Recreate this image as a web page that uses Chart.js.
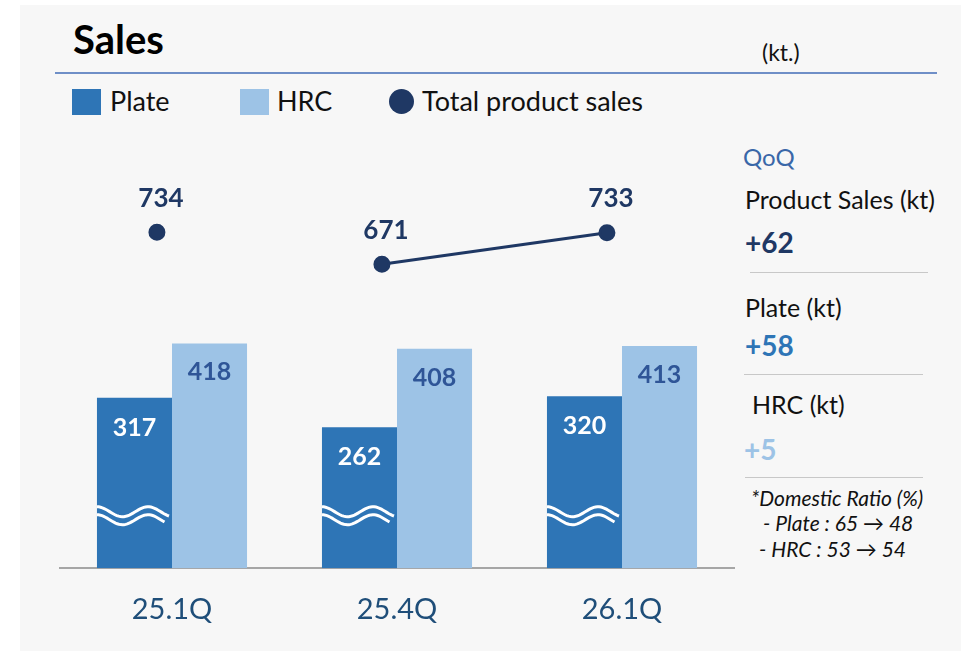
<!DOCTYPE html>
<html>
<head>
<meta charset="utf-8">
<script src="https://cdn.jsdelivr.net/npm/chart.js@4/dist/chart.umd.min.js"></script>
<style>
  html, body { margin: 0; padding: 0; background: #ffffff; }
  body { width: 961px; height: 651px; position: relative; overflow: hidden; font-family: Lato, "Open Sans", sans-serif; }
  #panel { position: absolute; left: 20px; top: 5px; width: 941px; height: 646px; background: #f7f7f7; }
  #wrap { position: absolute; left: 0; top: 0; width: 961px; height: 651px; }
  .t { position: absolute; white-space: nowrap; line-height: 1; }
  .rule { position: absolute; height: 0; }
  .sq { position: absolute; width: 29px; height: 26px; }
</style>
</head>
<body>
<div id="panel"></div>

<div class="t" style="left:73px; top:19px; font-size:40px; font-weight:700; color:#000;">Sales</div>
<div class="t" style="left:762px; top:41px; font-size:23px; color:#111;">(kt.)</div>
<div class="rule" style="left:55px; top:72px; width:882px; border-top:2px solid #6f8fc7;"></div>

<!-- legend -->
<div class="sq" style="left:72px; top:89px; background:#2e75b6;"></div>
<div class="t" style="left:110px; top:87px; font-size:27px; color:#111;">Plate</div>
<div class="sq" style="left:240px; top:89px; background:#9dc3e6;"></div>
<div class="t" style="left:277px; top:87px; font-size:27px; color:#111;">HRC</div>
<div style="position:absolute; left:389px; top:89px; width:25px; height:25px; border-radius:50%; background:#1f3864;"></div>
<div class="t" style="left:422px; top:87px; font-size:27px; color:#111;">Total product sales</div>

<!-- QoQ panel -->
<div class="t" style="left:743px; top:145px; font-size:24px; color:#3a67a8;">QoQ</div>
<div class="t" style="left:745px; top:187px; font-size:25px; color:#111;">Product Sales (kt)</div>
<div class="t" style="left:745px; top:228px; font-size:28px; font-weight:700; color:#1f3864;">+62</div>
<div class="rule" style="left:750px; top:272px; width:178px; border-top:1px solid #c8c8c8;"></div>
<div class="t" style="left:745px; top:295px; font-size:25px; color:#111;">Plate (kt)</div>
<div class="t" style="left:745px; top:331px; font-size:28px; font-weight:700; color:#2e75b6;">+58</div>
<div class="rule" style="left:744px; top:374px; width:179px; border-top:1px solid #c8c8c8;"></div>
<div class="t" style="left:752px; top:392px; font-size:25px; color:#111;">HRC (kt)</div>
<div class="t" style="left:744px; top:435px; font-size:28px; font-weight:700; color:#9dc3e6;">+5</div>
<div class="rule" style="left:745px; top:477px; width:178px; border-top:1px solid #c8c8c8;"></div>
<div class="t" style="left:751px; top:487px; font-size:21px; font-style:italic; color:#111;">*Domestic Ratio (%)</div>
<div class="t" style="left:763px; top:512px; font-size:21px; font-style:italic; color:#111;">- Plate : 65 &#8594; 48</div>
<div class="t" style="left:759px; top:538px; font-size:21px; font-style:italic; color:#111;">- HRC : 53 &#8594; 54</div>

<div id="wrap"><canvas id="salesChart"></canvas></div>

<script>
const quarters = ["25.1Q", "25.4Q", "26.1Q"];
const plateSales = [317, 262, 320];
const hrcSales = [418, 408, 413];
const totalSales = [734, 671, 733];

const plateColor = "#2e75b6";
const hrcColor = "#9dc3e6";
const totalColor = "#1f3864";

// values drawn on bars / points, plus the broken-axis waves on Plate bars
const valueLabels = {
  id: "valueLabels",
  afterDatasetsDraw(chart) {
    const ctx = chart.ctx;
    const yScale = chart.scales.y;
    ctx.save();
    ctx.textAlign = "center";
    ctx.textBaseline = "middle";
    ctx.font = "700 25px Lato, 'Open Sans', sans-serif";

    const plateMeta = chart.getDatasetMeta(0);
    plateMeta.data.forEach((bar, i) => {
      // wave marks
      const left = bar.x - bar.width / 2;
      const w = bar.width;
      const c = yScale.getPixelForValue(105);
      ctx.strokeStyle = "#ffffff";
      ctx.lineWidth = 3;
      [0, 8].forEach((dy, k) => {
        ctx.beginPath();
        const span = k === 0 ? 0.96 : 0.9;
        for (let s = 0; s <= 40; s++) {
          const t = (s / 40) * span;
          const px = left + t * w;
          const py = c + dy - 5 * Math.cos((2 * Math.PI * t) / 0.68);
          if (s === 0) ctx.moveTo(px, py); else ctx.lineTo(px, py);
        }
        ctx.stroke();
      });
      ctx.fillStyle = "#ffffff";
      ctx.fillText(String(plateSales[i]), bar.x, bar.y + 30);
    });

    const hrcMeta = chart.getDatasetMeta(1);
    hrcMeta.data.forEach((bar, i) => {
      ctx.fillStyle = "#2f5597";
      ctx.fillText(String(hrcSales[i]), bar.x, bar.y + 29);
    });

    const lineMeta = chart.getDatasetMeta(2);
    ctx.font = "700 26px Lato, 'Open Sans', sans-serif";
    lineMeta.data.forEach((pt, i) => {
      ctx.fillStyle = totalColor;
      ctx.fillText(String(totalSales[i]), pt.x + 4, pt.y - 34);
    });
    ctx.restore();
  }
};

new Chart(document.getElementById("salesChart"), {
  type: "bar",
  data: {
    labels: quarters,
    datasets: [
      {
        label: "Plate",
        data: plateSales,
        backgroundColor: plateColor,
        categoryPercentage: 0.667,
        barPercentage: 1,
        order: 2
      },
      {
        label: "HRC",
        data: hrcSales,
        backgroundColor: hrcColor,
        categoryPercentage: 0.667,
        barPercentage: 1,
        order: 2
      },
      {
        type: "line",
        label: "Total product sales",
        // points sit a little left of each category centre, as in the source slide
        parsing: false,
        data: totalSales.map((v, i) => ({ x: i - 0.067, y: v })),
        yAxisID: "y2",
        borderColor: totalColor,
        backgroundColor: totalColor,
        borderWidth: 3,
        pointRadius: 7,
        pointHoverRadius: 7,
        segment: {
          // 25.1Q is not joined to 25.4Q
          borderColor: (c) => (c.p0DataIndex === 0 ? "rgba(0,0,0,0)" : totalColor)
        },
        order: 1
      }
    ]
  },
  options: {
    responsive: true,
    maintainAspectRatio: false,
    animation: false,
    layout: { padding: { top: 152, left: 59.5, right: 226.5, bottom: 0 } },
    scales: {
      x: {
        bounds: "ticks",
        grid: { display: false, drawTicks: false },
        border: { display: true, color: "#a6a6a6", width: 2 },
        ticks: {
          color: "#1f4e79",
          padding: 24,
          font: { family: "Lato, 'Open Sans', sans-serif", size: 29 }
        }
      },
      y: {
        display: false,
        min: 0,
        max: 774
      },
      y2: {
        display: false,
        min: 74.5,
        max: 891.5
      }
    },
    plugins: {
      legend: { display: false },
      tooltip: { enabled: false }
    }
  },
  plugins: [valueLabels]
});
</script>
</body>
</html>
